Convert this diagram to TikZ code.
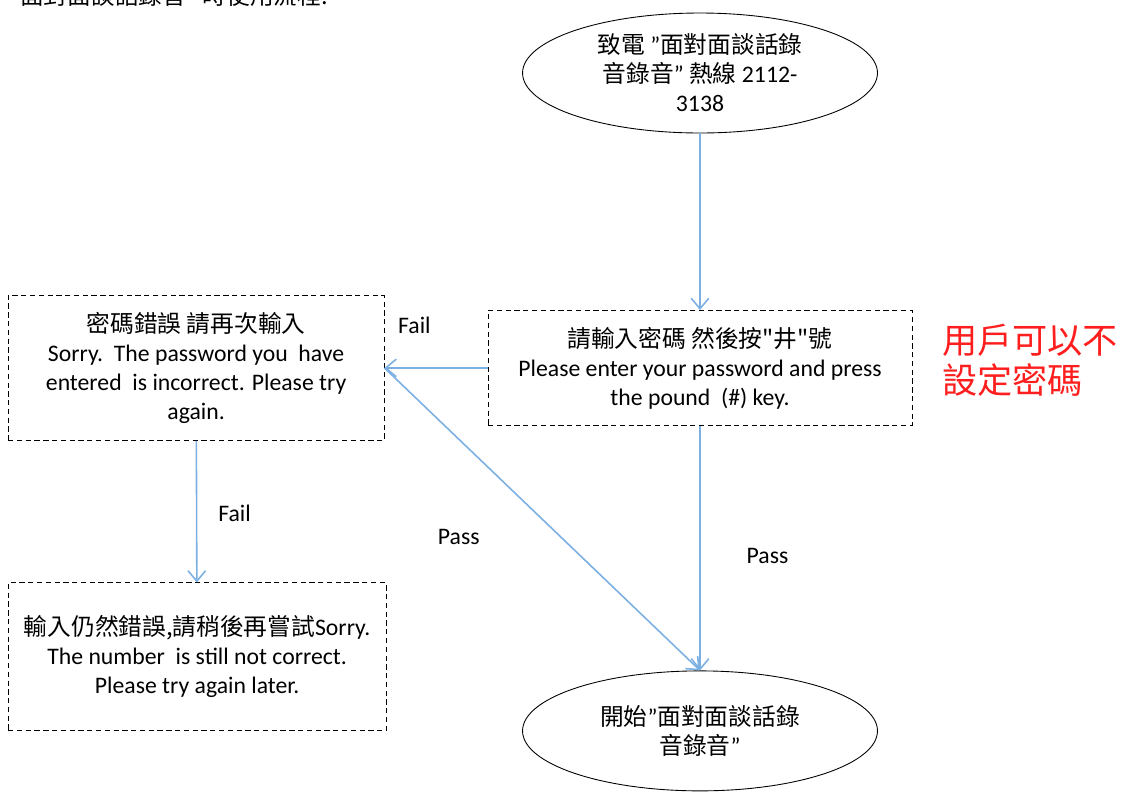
\documentclass[tikz,border=0pt]{standalone}
\usepackage{fontspec}
\setmainfont{Carlito}
\newfontfamily\cjk{Noto Sans CJK TC}
\usetikzlibrary{shapes.geometric, arrows.meta}

\definecolor{flowblue}{RGB}{124,176,226}
\definecolor{notered}{RGB}{255,30,30}

\begin{document}
\begin{tikzpicture}[
    x=0.02cm, y=-0.02cm,
    base/.style = {draw=black, line width=0.5pt, align=center,
font=\fontsize{13.5pt}{16.5pt}\selectfont},
    oval/.style = {base, ellipse, minimum width=7.1cm, minimum height=2.4cm,
inner xsep=-4pt, inner ysep=0pt},
    msgbox/.style = {base, rectangle, dash pattern=on 3pt off 2pt,
minimum height=2.9cm, inner sep=0pt},
    flow/.style = {-{Straight Barb[length=6pt, width=10pt]}, draw=flowblue, line width=0.9pt},
    lbl/.style = {font=\fontsize{13.5pt}{15pt}\selectfont},
    node distance=5.9cm
]
  \useasboundingbox (0,0) rectangle (1121,792);

  \node (title) [anchor=west, font=\fontsize{13.5pt}{15pt}\cjk] at (14,-5) {面對面談話錄音" 時使用流程:};

  \node (call)  [oval] at (700,73) {{\cjk 致電 }”{\cjk 面對面談話錄}\\{\cjk 音錄音}” {\cjk 熱線} 2112-\\3138};
  \node (pwd)   [msgbox, below of=call, minimum width=8.48cm, minimum height=2.3cm]
    {{\cjk 請輸入密碼 然後按"井"號}\\Please enter your password and press\\the pound\ \ (\#) key.};
  \node (start) [oval, below of=pwd, yshift=-1.36cm] {{\cjk 開始}”{\cjk 面對面談話錄}\\{\cjk 音錄音}”};
  \node (retry) [msgbox, left of=pwd, xshift=-4.18cm, minimum width=7.52cm]
    {{\cjk 密碼錯誤 請再次輸入}\\Sorry.\ \ The password you\ \ have\\entered\ \ is incorrect. Please try\\again.};
  \node (fatal) [msgbox, below of=retry, xshift=0.02cm, yshift=0.12cm, minimum width=7.56cm, minimum height=2.96cm]
    {{\cjk 輸入仍然錯誤,請稍後再嘗試}Sorry.\\The number\ \ is still not correct.\\Please try again later.};

  \node (note)  [anchor=west, align=left, text=notered, font=\fontsize{20pt}{22.7pt}\cjk] at (936,360)
    {用戶可以不\\設定密碼};

  \draw[flow] (call) -- (pwd);
  \draw[flow] (pwd) -- (retry) node[lbl, pos=0.71, above=0.55cm] {Fail};
  \draw[flow] (retry) -- (fatal) node[lbl, pos=0.51, right=0.3cm] {Fail};
  \draw[flow] (retry.east) -- (start.north) node[lbl, pos=0.56, left=1.5cm] {Pass};
  \draw[flow] (pwd) -- (start) node[lbl, pos=0.53, right=0.8cm] {Pass};

\end{tikzpicture}
\end{document}
